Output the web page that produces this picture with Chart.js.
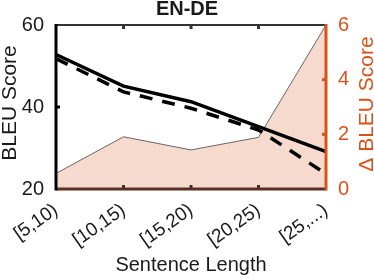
<!DOCTYPE html>
<html>
<head>
<meta charset="utf-8">
<script src="https://cdn.jsdelivr.net/npm/chart.js@4/dist/chart.umd.min.js"></script>
<style>
  html, body { margin: 0; padding: 0; background: #fff; }
  #wrap { width: 374px; height: 279px; }
</style>
</head>
<body>
<div id="wrap"><canvas id="myChart"></canvas></div>
<script>
// datos
const categorias = ['[5,10)', '[10,15)', '[15,20)', '[20,25)', '[25,...)'];
const bleuModelo = [52.8, 45.1, 41.3, 35.2, 29.1];
const bleuBase = [51.8, 43.7, 39.7, 34.4, 23.7];
const deltaBleu = [0.57, 1.91, 1.43, 1.89, 6.0];
const ticksIzq = [20, 40, 60];
const ticksDer = [0, 2, 4, 6];

const naranja = '#d95319';
const texto = '#1a1a1a';
const fuente = 'Liberation Sans, Arial, sans-serif';

// marco, ticks hacia adentro y titulos de los ejes y
const marcoPlugin = {
    id: 'marco',
    afterDatasetsDraw(chart) {
        const ctx = chart.ctx;
        const a = chart.chartArea;
        const x = chart.scales.x;
        const y = chart.scales.y;
        const y2 = chart.scales.y2;
        ctx.save();
        // ticks del eje x arriba y abajo
        ctx.fillStyle = '#333';
        for (let i = 1; i < categorias.length - 1; i++) {
            const px = x.getPixelForTick(i);
            ctx.fillRect(px - 1.5, a.top, 3, 4);
            ctx.fillRect(px - 1.5, a.bottom - 4, 3, 4);
        }
        // tick izquierdo en 40
        ctx.fillStyle = '#000';
        ctx.fillRect(a.left, y.getPixelForValue(40) - 1.5, 4, 3);
        // ticks derechos
        ctx.fillStyle = naranja;
        [2, 4].forEach(v => {
            ctx.fillRect(a.right - 4, y2.getPixelForValue(v) - 1.5, 4, 3);
        });
        // linea superior
        ctx.strokeStyle = '#333';
        ctx.lineWidth = 2;
        ctx.beginPath();
        ctx.moveTo(a.left, a.top);
        ctx.lineTo(a.right, a.top);
        ctx.stroke();
        // linea inferior
        ctx.strokeStyle = '#5b3022';
        ctx.lineWidth = 3;
        ctx.beginPath();
        ctx.moveTo(a.left, a.bottom);
        ctx.lineTo(a.right, a.bottom);
        ctx.stroke();
        // eje izquierdo
        ctx.strokeStyle = '#000';
        ctx.beginPath();
        ctx.moveTo(a.left, a.top - 1);
        ctx.lineTo(a.left, a.bottom + 1.5);
        ctx.stroke();
        // eje derecho
        ctx.strokeStyle = naranja;
        ctx.beginPath();
        ctx.moveTo(a.right, a.top - 1);
        ctx.lineTo(a.right, a.bottom + 1.5);
        ctx.stroke();

        // titulos verticales
        ctx.font = '21px ' + fuente;
        ctx.textAlign = 'center';
        ctx.textBaseline = 'alphabetic';
        ctx.fillStyle = texto;
        ctx.translate(16, 103);
        ctx.rotate(-Math.PI / 2);
        ctx.fillText('BLEU Score', 0, 0);
        ctx.setTransform(1, 0, 0, 1, 0, 0);
        ctx.fillStyle = naranja;
        ctx.translate(373, 104);
        ctx.rotate(-Math.PI / 2);
        ctx.fillText('\u0394 BLEU Score', 0, 0);
        ctx.restore();
    }
};

const ctx = document.getElementById('myChart').getContext('2d');
const myChart = new Chart(ctx, {
    type: 'line',
    data: {
        labels: categorias,
        datasets: [{
            label: 'modelo',
            data: bleuModelo,
            yAxisID: 'y',
            borderColor: '#000',
            borderWidth: 3.5,
            pointRadius: 0,
            fill: false,
            order: 1
        }, {
            label: 'base',
            data: bleuBase,
            yAxisID: 'y',
            borderColor: '#000',
            borderWidth: 3.5,
            borderDash: [13, 10],
            pointRadius: 0,
            fill: false,
            order: 1
        }, {
            label: 'delta',
            data: deltaBleu,
            yAxisID: 'y2',
            borderColor: '#444',
            borderWidth: 0.8,
            backgroundColor: '#f6dace',
            pointRadius: 0,
            fill: 'origin',
            order: 2
        }]
    },
    options: {
        responsive: true,
        maintainAspectRatio: false,
        animation: false,
        layout: { padding: 0 },
        plugins: {
            legend: { display: false },
            tooltip: { enabled: false },
            title: {
                display: true,
                text: 'EN-DE',
                color: texto,
                font: { family: fuente, size: 20, weight: 'bold', lineHeight: 0.9 },
                padding: { top: 0, bottom: 7 }
            }
        },
        scales: {
            x: {
                offset: false,
                grid: { display: false },
                border: { display: false },
                ticks: {
                    color: texto,
                    font: { family: fuente, size: 19 },
                    minRotation: 35,
                    maxRotation: 35,
                    padding: 2
                },
                title: {
                    display: true,
                    text: 'Sentence Length',
                    color: texto,
                    font: { family: fuente, size: 20 },
                    padding: { top: 0, bottom: 2 }
                },
                afterFit(scale) { scale.height = 90; }
            },
            y: {
                position: 'left',
                min: 20,
                max: 60,
                grid: { display: false },
                border: { display: false },
                afterBuildTicks(scale) { scale.ticks = ticksIzq.map(v => ({ value: v })); },
                ticks: {
                    color: texto,
                    font: { family: fuente, size: 20 },
                    padding: 4
                },
                afterFit(scale) { scale.width = 56; }
            },
            y2: {
                position: 'right',
                min: 0,
                max: 6,
                grid: { display: false },
                border: { display: false },
                afterBuildTicks(scale) { scale.ticks = ticksDer.map(v => ({ value: v })); },
                ticks: {
                    color: naranja,
                    font: { family: fuente, size: 20 },
                    padding: 4
                },
                afterFit(scale) { scale.width = 48; }
            }
        }
    },
    plugins: [marcoPlugin]
});
</script>
</body>
</html>
